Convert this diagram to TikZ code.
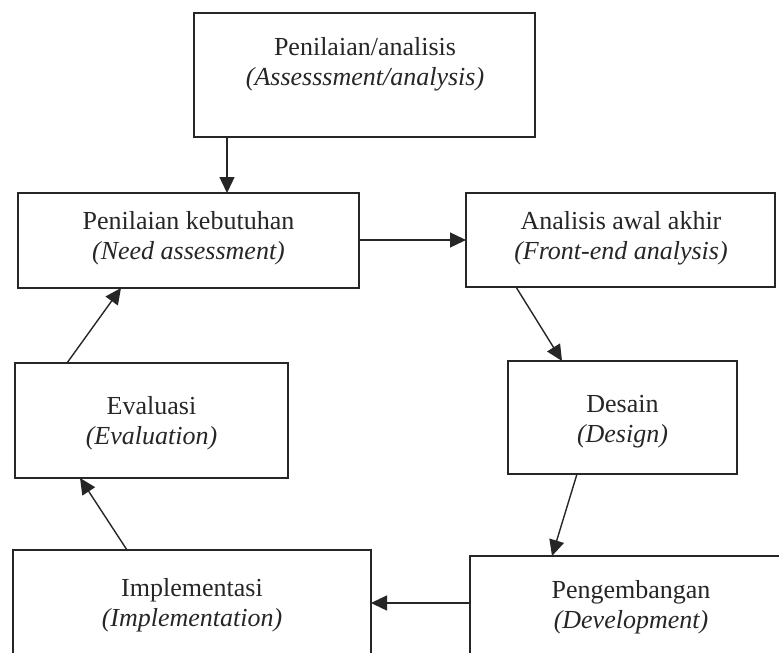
\documentclass[tikz,border=0pt]{standalone}
\usepackage{fontspec}
\setmainfont{Liberation Serif}
\usetikzlibrary{arrows.meta}
\begin{document}
\begin{tikzpicture}[x=1pt,y=-1pt,
  box/.style={draw=black!85, line width=2.5pt, rectangle, inner sep=0pt, outer sep=0pt},
  lab/.style={anchor=base, inner sep=0pt, font=\fontsize{26pt}{30pt}\selectfont, text=black!85},
  labit/.style={lab, font=\fontsize{26pt}{30pt}\selectfont\itshape},
  arr/.style={draw=black!85, line width=1.4pt, -{Triangle[length=16pt,width=15pt]}}]
\clip (0,0) rectangle (779,653);
\fill[white] (0,0) rectangle (779,653);
% boxes
\node[box, minimum width=341pt, minimum height=124pt] (b1) at (364.5,75) {};
\node[box, minimum width=341pt, minimum height=95pt] (b2) at (188.5,240.5) {};
\node[box, minimum width=309pt, minimum height=94pt] (b3) at (620.5,240) {};
\node[box, minimum width=229pt, minimum height=113pt] (b4) at (622.5,417.5) {};
\node[box, minimum width=273pt, minimum height=115pt] (b5) at (151.5,420.5) {};
\node[box, minimum width=358pt, minimum height=115pt] (b6) at (192,607.5) {};
\node[box, minimum width=322pt, minimum height=114pt] (b7) at (631,613) {};
% labels
\node[lab] (t1a) at (365,55) {Penilaian/analisis};
\node[labit] (t1b) at (365,85) {(Assesssment/analysis)};
\node[lab] (t2a) at (188.5,229) {Penilaian kebutuhan};
\node[labit] (t2b) at (188.5,259) {(Need assessment)};
\node[lab] (t3a) at (621,229) {Analisis awal akhir};
\node[labit] (t3b) at (621,259) {(Front-end analysis)};
\node[lab] (t4a) at (622.5,412) {Desain};
\node[labit] (t4b) at (622.5,442) {(Design)};
\node[lab] (t5a) at (151.5,414) {Evaluasi};
\node[labit] (t5b) at (151.5,444) {(Evaluation)};
\node[lab] (t6a) at (192,596) {Implementasi};
\node[labit] (t6b) at (192,626) {(Implementation)};
\node[lab] (t7a) at (631,598) {Pengembangan};
\node[labit] (t7b) at (631,628) {(Development)};
% connectors
\draw[arr] ([xshift=33pt]b1.south west) -- ([xshift=209pt]b2.north west);
\draw[arr] ([yshift=0.5pt]b2.east) -- ([yshift=0.5pt]b2.east -| b3.west);
\draw[arr] ([xshift=50pt]b3.south west) -- ([xshift=54pt]b4.north west);
\draw[arr] ([xshift=69pt]b4.south west) -- ([xshift=82pt]b7.north west);
\draw[arr] ([yshift=10pt]b7.west) -- ([yshift=10pt]b7.west -| b6.east);
\draw[arr] ([xshift=114pt]b6.north west) -- ([xshift=65pt]b5.south west);
\draw[arr] ([xshift=52pt]b5.north west) -- ([xshift=103pt]b2.south west);
\end{tikzpicture}
\end{document}
